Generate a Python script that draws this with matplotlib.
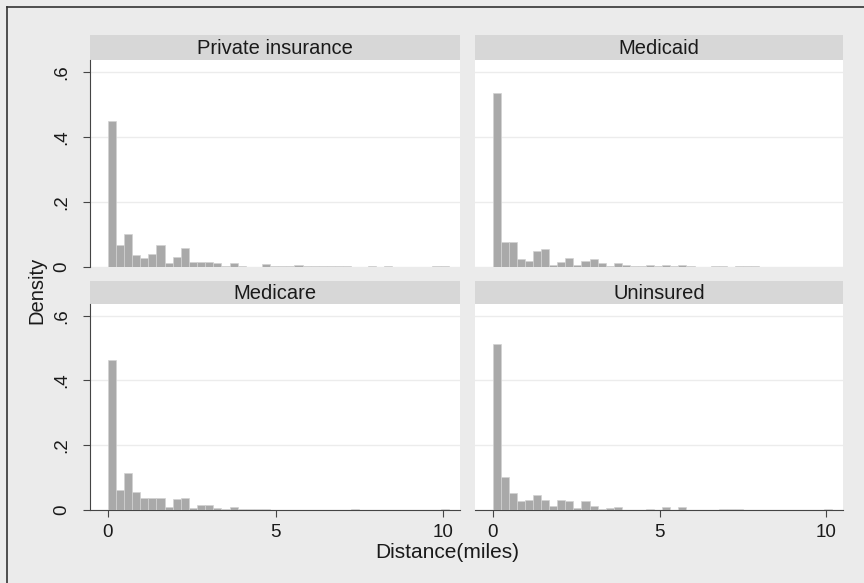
import numpy as np
import matplotlib.pyplot as plt

# histogram densities, bin width ~0.242 miles starting at 0
bin_w = 0.242
private = [0.448, 0.068, 0.100, 0.037, 0.029, 0.041, 0.068, 0.011, 0.031, 0.059,
           0.015, 0.015, 0.015, 0.011, 0.002, 0.012, 0.002, 0.001, 0.001, 0.009,
           0.002, 0.002, 0.002, 0.007, 0.003, 0.002, 0.002, 0.002, 0.002, 0.002,
           0.001, 0.001, 0.004, 0.001, 0.004, 0.001, 0.001, 0.001, 0.001, 0.001,
           0.004, 0.004]
medicaid = [0.536, 0.077, 0.077, 0.025, 0.017, 0.048, 0.054, 0.007, 0.015, 0.029,
            0.007, 0.017, 0.025, 0.012, 0.002, 0.011, 0.005, 0.002, 0.002, 0.006,
            0.003, 0.006, 0.003, 0.006, 0.004, 0.001, 0.001, 0.003, 0.003, 0.0,
            0.003, 0.003, 0.003, 0.0, 0.0, 0.0, 0.0, 0.0, 0.0, 0.0,
            0.0, 0.0]
medicare = [0.464, 0.062, 0.114, 0.056, 0.038, 0.036, 0.038, 0.010, 0.033, 0.036,
            0.005, 0.016, 0.016, 0.006, 0.002, 0.010, 0.004, 0.002, 0.002, 0.004,
            0.001, 0.001, 0.001, 0.001, 0.001, 0.001, 0.001, 0.001, 0.001, 0.001,
            0.002, 0.001, 0.001, 0.001, 0.001, 0.001, 0.001, 0.001, 0.001, 0.001,
            0.001, 0.002]
uninsured = [0.512, 0.103, 0.052, 0.027, 0.030, 0.047, 0.030, 0.012, 0.030, 0.027,
             0.005, 0.027, 0.013, 0.003, 0.007, 0.010, 0.001, 0.001, 0.001, 0.003,
             0.001, 0.008, 0.001, 0.008, 0.001, 0.001, 0.001, 0.001, 0.003, 0.002,
             0.002, 0.001, 0.001, 0.001, 0.001, 0.001, 0.001, 0.001, 0.001, 0.001,
             0.001, 0.002]

panels = [("Private insurance", private), ("Medicaid", medicaid),
          ("Medicare", medicare), ("Uninsured", uninsured)]
y_ticks = [0, 0.2, 0.4, 0.6]
y_labels = ["0", ".2", ".4", ".6"]
x_ticks = [0, 5, 10]

W, H = 864, 583
bg = "#ebebeb"
strip_col = "#d7d7d7"
bar_col = "#a9a9a9"
txt = "#1a1a1a"
plt.rcParams["font.family"] = ["Liberation Sans", "DejaVu Sans"]

fig = plt.figure(figsize=(W / 100, H / 100), dpi=100, facecolor=bg)


def px(x0, y0, x1, y1):
    return [x0 / W, 1 - y1 / H, (x1 - x0) / W, (y1 - y0) / H]


# frame lines at top and left
fig.add_artist(plt.Line2D([7 / W, 1], [1 - 7 / H] * 2, color="#333333", lw=1.2))
fig.add_artist(plt.Line2D([7 / W] * 2, [0, 1 - 7 / H], color="#333333", lw=1.2))

cols = [(90, 460), (475, 843)]
rows = [(35, 60, 267), (281, 304, 510)]
edges = np.arange(len(private)) * bin_w

for k, (title, vals) in enumerate(panels):
    r, c = divmod(k, 2)
    x0, x1 = cols[c]
    s0, p0, p1 = rows[r]

    strip = fig.add_axes(px(x0, s0, x1, p0))
    strip.set_facecolor(strip_col)
    strip.set_xticks([]); strip.set_yticks([])
    for sp in strip.spines.values():
        sp.set_visible(False)
    strip.text(0.5, 0.45, title, ha="center", va="center", fontsize=14.5, color=txt)

    ax = fig.add_axes(px(x0, p0, x1, p1))
    ax.set_facecolor("white")
    ax.bar(edges, vals, width=bin_w, align="edge", color=bar_col,
           edgecolor="#d2d2d2", linewidth=0.5, zorder=3)
    ax.set_xlim(-0.53, 10.5)
    ax.set_ylim(0, 0.636)
    ax.set_yticks(y_ticks)
    ax.grid(axis="y", color="#ececec", lw=1, zorder=0)
    for sp in ax.spines.values():
        sp.set_visible(False)

    if c == 0:
        ax.spines["left"].set_visible(True)
        ax.spines["left"].set_color("#444444")
        ax.set_yticklabels(y_labels, rotation=90, va="center", fontsize=13.5, color=txt)
        ax.tick_params(axis="y", length=5, color="#444444", pad=9)
    else:
        ax.tick_params(axis="y", length=0, labelleft=False)

    ax.set_xticks(x_ticks)
    if r == 1:
        ax.spines["bottom"].set_visible(True)
        ax.spines["bottom"].set_color("#444444")
        ax.set_xticklabels([str(t) for t in x_ticks], fontsize=13.5, color=txt)
        ax.tick_params(axis="x", length=5, color="#444444", pad=5)
    else:
        ax.tick_params(axis="x", length=0, labelbottom=False)

fig.text(37 / W, 1 - 290 / H, "Density", rotation=90, ha="center", va="center",
         fontsize=14.5, color=txt)
fig.text(447 / W, 1 - 552 / H, "Distance(miles)", ha="center", va="center",
         fontsize=15, color=txt)

fig.savefig("out.png", dpi=100, facecolor=bg)
